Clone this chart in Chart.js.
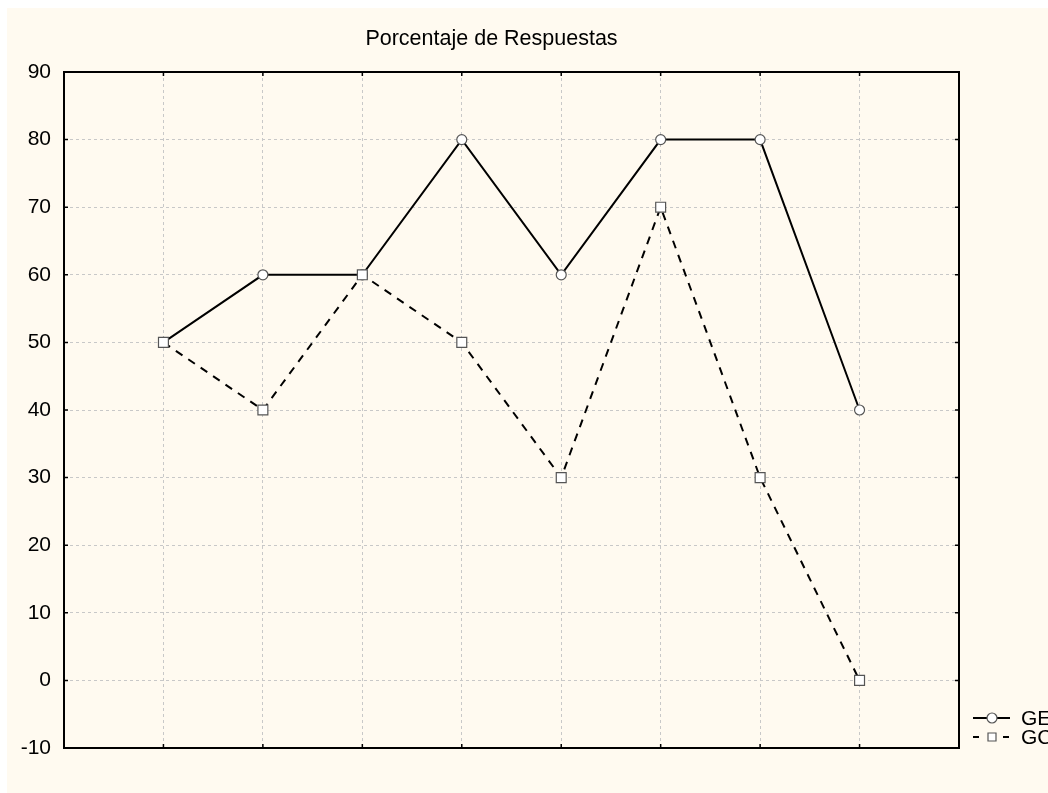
<!DOCTYPE html>
<html lang="es">
<head>
<meta charset="UTF-8" />
<title>Porcentaje de Respuestas</title>
<script src="https://cdn.jsdelivr.net/npm/chart.js"></script>
<style>
    html, body { margin: 0; padding: 0; background: #ffffff; overflow: hidden; }
    .fondo {
        position: absolute; left: 7px; top: 8px;
        width: 1041px; height: 785px;
        background: #fffaf0;
    }
</style>
</head>
<body>
<div class="fondo">
    <canvas id="grafico" width="1041" height="785"></canvas>
</div>

<script>
    // datos
    const categorias = ['1', '2', '3', '4', '5', '6', '7', '8'];
    const valoresGE = [50, 60, 60, 80, 60, 80, 80, 40];
    const valoresGC = [50, 40, 60, 50, 30, 70, 30, 0];
    const ticksY = [-10, 0, 10, 20, 30, 40, 50, 60, 70, 80, 90];
    const titulo = 'Porcentaje de Respuestas';

    const fuente = '"Liberation Sans", Arial, sans-serif';

    function puntos(valores) {
        return valores.map((v, i) => ({ x: i + 1, y: v }));
    }

    // marco negro + marcas hacia adentro, titulo y leyenda
    const marco = {
        id: 'marco',
        afterDraw(chart) {
            const { ctx, chartArea: a, scales } = chart;
            ctx.save();
            ctx.strokeStyle = '#000';
            ctx.lineWidth = 2;
            ctx.strokeRect(a.left, a.top, a.right - a.left, a.bottom - a.top);
            ctx.lineWidth = 1.5;
            ctx.beginPath();
            for (let i = 0; i <= categorias.length + 1; i++) {
                const x = scales.x.getPixelForValue(i);
                ctx.moveTo(x, a.top); ctx.lineTo(x, a.top + 4);
                ctx.moveTo(x, a.bottom); ctx.lineTo(x, a.bottom - 4);
            }
            ticksY.forEach(t => {
                const y = scales.y.getPixelForValue(t);
                ctx.moveTo(a.left, y); ctx.lineTo(a.left + 4, y);
                ctx.moveTo(a.right, y); ctx.lineTo(a.right - 4, y);
            });
            ctx.stroke();

            // titulo
            ctx.fillStyle = '#000';
            ctx.font = '21.5px ' + fuente;
            ctx.textAlign = 'center';
            ctx.textBaseline = 'middle';
            ctx.fillText(titulo, (a.left + a.right) / 2 - 20, 31);

            // leyenda
            ctx.font = '21px ' + fuente;
            ctx.textAlign = 'left';
            chart.data.datasets.forEach((ds, i) => {
                const y = a.bottom - 30 + i * 19;
                const x0 = a.right + 14;
                ctx.strokeStyle = '#000';
                ctx.lineWidth = 1.8;
                ctx.setLineDash(ds.borderDash ? [6, 9] : []);
                ctx.beginPath();
                ctx.moveTo(x0, y); ctx.lineTo(x0 + 37, y);
                ctx.stroke();
                ctx.setLineDash([]);
                ctx.fillStyle = '#fff';
                ctx.strokeStyle = '#555';
                ctx.lineWidth = 1.2;
                ctx.beginPath();
                if (ds.pointStyle === 'rect') {
                    ctx.rect(x0 + 15, y - 4, 8, 8);
                } else {
                    ctx.arc(x0 + 19, y, 5, 0, Math.PI * 2);
                }
                ctx.fill();
                ctx.stroke();
                ctx.fillStyle = '#000';
                ctx.fillText(ds.label, x0 + 48, y + 1);
            });
            ctx.restore();
        }
    };

    const ctx = document.getElementById('grafico').getContext('2d');
    const chart = new Chart(ctx, {
        type: 'line',
        data: {
            datasets: [
                {
                    label: 'GE',
                    data: puntos(valoresGE),
                    order: 2,
                    borderColor: '#000',
                    borderWidth: 2,
                    pointStyle: 'circle',
                    pointRadius: 5,
                    pointBackgroundColor: '#fff',
                    pointBorderColor: '#555',
                    pointBorderWidth: 1.2
                },
                {
                    label: 'GC',
                    data: puntos(valoresGC),
                    order: 1,
                    borderColor: '#000',
                    borderWidth: 2,
                    borderDash: [8, 7],
                    pointStyle: 'rect',
                    pointRadius: 7,
                    pointBackgroundColor: '#fff',
                    pointBorderColor: '#555',
                    pointBorderWidth: 1.2
                }
            ]
        },
        options: {
            responsive: false,
            animation: false,
            layout: { padding: { top: 64, right: 89, bottom: 45, left: 0 } },
            scales: {
                x: {
                    type: 'linear',
                    min: 0,
                    max: categorias.length + 1,
                    ticks: { display: false, stepSize: 1 },
                    grid: { color: '#c8c8c8', lineWidth: 1, drawTicks: false },
                    border: { display: false, dash: [3, 3] },
                    afterFit: s => { s.height = 0; }
                },
                y: {
                    min: ticksY[0],
                    max: ticksY[ticksY.length - 1],
                    afterBuildTicks: s => { s.ticks = ticksY.map(v => ({ value: v })); },
                    ticks: {
                        color: '#000',
                        padding: 13,
                        font: { family: fuente, size: 21 }
                    },
                    grid: { color: '#c8c8c8', lineWidth: 1, drawTicks: false },
                    border: { display: false, dash: [3, 3] },
                    afterFit: s => { s.width = 57; }
                }
            },
            plugins: {
                legend: { display: false },
                title: { display: false },
                tooltip: { enabled: false }
            }
        },
        plugins: [marco]
    });
</script>
</body>
</html>
